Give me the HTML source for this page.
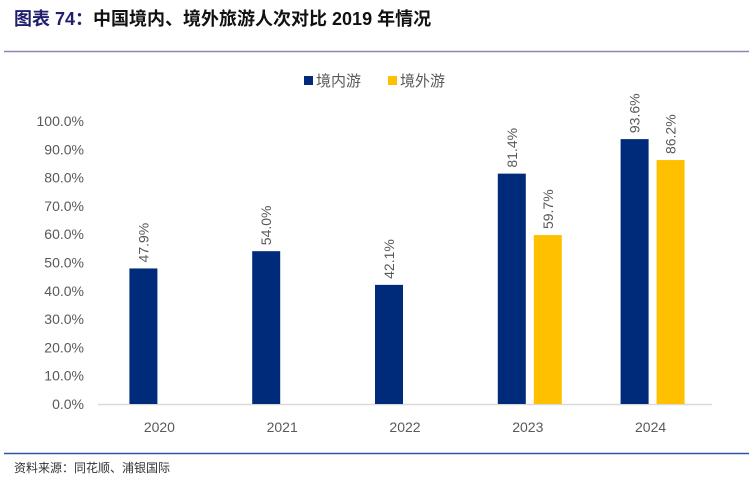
<!DOCTYPE html>
<html><head><meta charset="utf-8"><style>
body{margin:0;background:#fff;width:753px;height:479px;overflow:hidden;font-family:"Liberation Sans","Noto Sans CJK SC",sans-serif}
</style></head><body>
<svg width="753" height="479" xmlns="http://www.w3.org/2000/svg">
<text x="14" y="25" font-size="18" font-weight="bold" fill="#1f1f6e" font-family="Liberation Sans,Noto Sans CJK SC,sans-serif">图表 74：<tspan fill="#111">中国境内、境外旅游人次对比 2019 年情况</tspan></text>
<line x1="4" y1="51.5" x2="749" y2="51.5" stroke="#8b86b8" stroke-width="1.5"/>
<g>
<rect x="304" y="76" width="9" height="9" fill="#002b7a"/>
<text x="316" y="86" font-size="15" fill="#595959">境内游</text>
<rect x="388" y="76" width="9" height="9" fill="#ffc000"/>
<text x="400" y="86" font-size="15" fill="#595959">境外游</text>
</g>
<g id="plot"></g>
<line x1="4" y1="453.5" x2="749" y2="453.5" stroke="#2e56a6" stroke-width="1.5"/>
<text x="14" y="472" font-size="12" fill="#333">资料来源：同花顺、浦银国际</text>
</svg>
<script>
const categories=["2020","2021","2022","2023","2024"];
const domestic=[47.9,54.0,42.1,81.4,93.6];
const outbound=[null,null,null,59.7,86.2];
const yTicks=[0,10,20,30,40,50,60,70,80,90,100];
const NS="http://www.w3.org/2000/svg";
const g=document.getElementById("plot");
const x0=98,x1=712,y0=404,y100=121;
const y=v=>y0-(y0-y100)*v/100;
const band=(x1-x0)/categories.length;
const cx=i=>x0+band*(i+0.5);
function mk(t,a){const e=document.createElementNS(NS,t);for(const k in a)e.setAttribute(k,a[k]);g.appendChild(e);return e;}
yTicks.forEach(v=>{const t=mk("text",{x:84,y:y(v)+5,"font-size":14,fill:"#595959","text-anchor":"end"});


t.textContent=v.toFixed(1)+"%";});
const ax=mk("line",{x1:x0,y1:y0+0.5,x2:x1,y2:y0+0.5,stroke:"#d9d9d9","stroke-width":1.5});


function bar(v,i,off,color,name){
 if(v==null)return;
 const r=mk("rect",{x:cx(i)+off,y:y(v),width:28,height:y0-y(v),fill:color});
 
 
 const lx=cx(i)+off+14+5,ly=y(v)-6;
 const t=mk("text",{x:lx,y:ly,"font-size":14,fill:"#595959",transform:`rotate(-90 ${lx} ${ly})`});
 
 
 t.textContent=v.toFixed(1)+"%";
}
categories.forEach((c,i)=>{
 bar(domestic[i],i,-30,"#002b7a","domestic");
 bar(outbound[i],i,6,"#ffc000","outbound");
 const t=mk("text",{x:cx(i),y:432,"font-size":14,fill:"#595959","text-anchor":"middle"});
 
 
 t.textContent=c;
});
</script>
</body></html>
